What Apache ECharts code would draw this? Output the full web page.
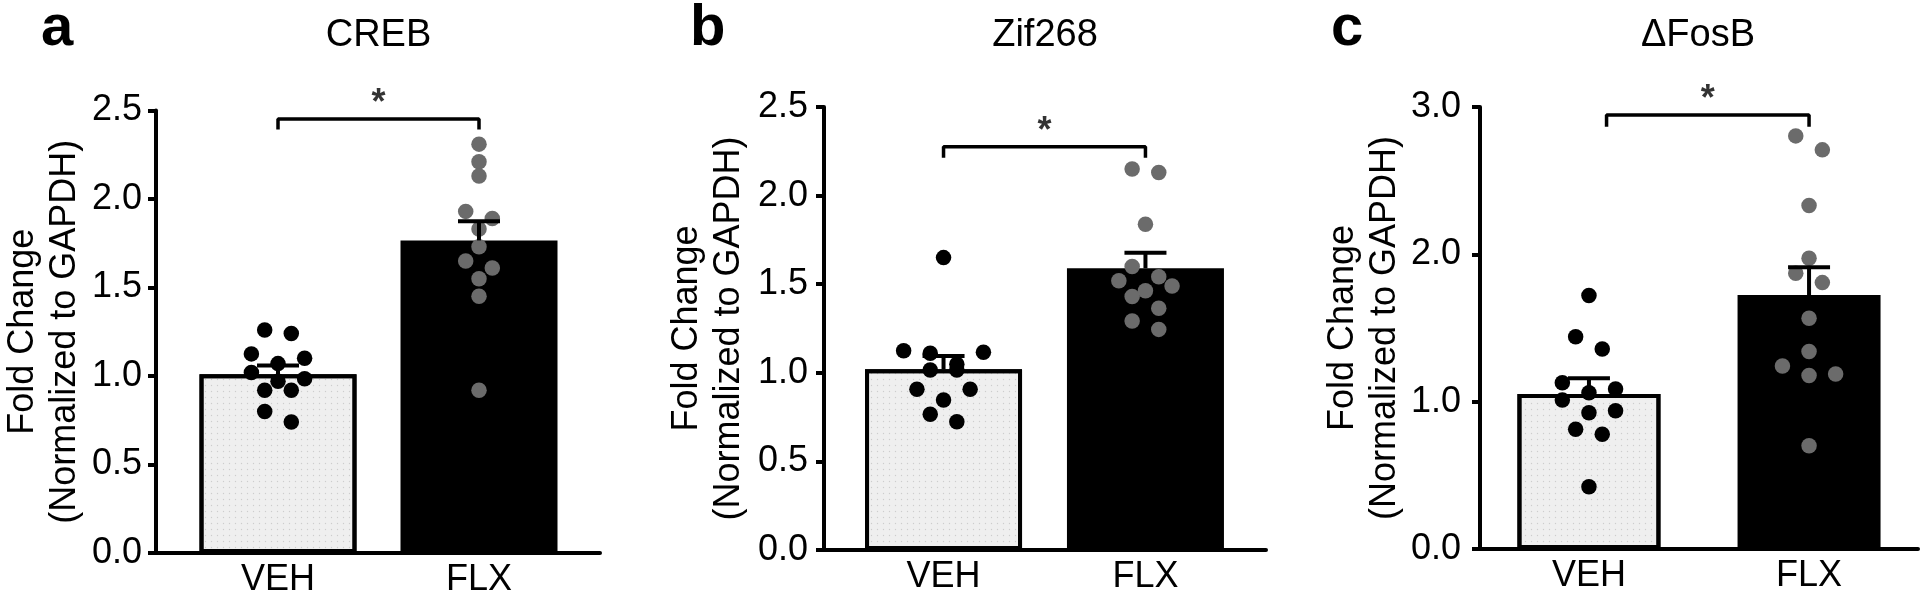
<!DOCTYPE html>
<html>
<head>
<meta charset="utf-8">
<script src="https://cdn.jsdelivr.net/npm/echarts@6/dist/echarts.min.js"></script>
<style>
html,body{margin:0;padding:0;background:#fff;}
#chart{width:1920px;height:592px;}
</style>
</head>
<body>
<div id="chart"></div>
<script>
// ---------- data ----------
const categories = ['VEH', 'FLX'];
const panelLetters = ['a', 'b', 'c'];
const panelTitles = ['CREB', 'Zif268', '\u0394FosB'];
const yAxisName = 'Fold Change\n(Normalized to GAPDH)';

const crebVeh = [1.26, 1.24, 1.125, 1.10, 1.07, 1.02, 0.985, 0.97, 0.92, 0.92, 0.80, 0.74];
const crebFlx = [2.31, 2.21, 2.13, 1.93, 1.89, 1.83, 1.73, 1.65, 1.61, 1.55, 1.45, 0.92];
const crebMean = [1.01, 1.766];
const crebSem = [0.05, 0.108];

const zifVeh = [1.65, 1.125, 1.116, 1.11, 1.048, 1.016, 1.016, 0.907, 0.907, 0.847, 0.766, 0.724];
const zifFlx = [2.15, 2.13, 1.838, 1.60, 1.542, 1.52, 1.49, 1.463, 1.43, 1.364, 1.292, 1.245];
const zifMean = [1.02, 1.59];
const zifSem = [0.075, 0.088];

const fosVeh = [1.72, 1.441, 1.358, 1.129, 1.086, 1.061, 1.012, 0.939, 0.925, 0.813, 0.779, 0.423];
const fosFlx = [2.804, 2.709, 2.331, 1.974, 1.872, 1.808, 1.566, 1.34, 1.242, 1.188, 1.177, 0.701];
const fosMean = [1.052, 1.724];
const fosSem = [0.107, 0.188];

const yMaxes = [2.5, 2.5, 3.0];
const yIntervals = [0.5, 0.5, 1.0];
const sigMarks = ['*', '*', '*'];
const bracketHeights = [2.452, 2.276, 2.946];

// ---------- layout (px) ----------
const FONT = '"Liberation Sans", Arial, Helvetica, sans-serif';
const panels = [
  {grid:{left:156, top:110.5, width:444, height:442.5}, xMin:-0.607, xMax:1.602, barW:157, nameGap:70, labelMargin:14, bracketFrom:0, bracketDrop:0.06,
   veh:crebVeh, flx:crebFlx, mean:crebMean, sem:crebSem, letterX:41, titleX:378.5},
  {grid:{left:824, top:107, width:442, height:443}, xMin:-0.592, xMax:1.597, barW:157, nameGap:74, labelMargin:16, bracketFrom:0, bracketDrop:0.062,
   veh:zifVeh, flx:zifFlx, mean:zifMean, sem:zifSem, letterX:690, titleX:1045},
  {grid:{left:1480, top:107, width:438, height:442}, xMin:-0.495, xMax:1.495, barW:143, nameGap:74, labelMargin:19, bracketFrom:0.08, bracketDrop:0.08,
   veh:fosVeh, flx:fosFlx, mean:fosMean, sem:fosSem, letterX:1331, titleX:1698}
];

const DOT = 15.5;     // dot diameter px
const STEP = 26.6;    // column step px within a swarm row

// simple row-based beeswarm: returns x offsets (in axis units) for the values
function swarm(values, pxPerX, pxPerY) {
  const idx = values.map((v, i) => i).sort((a, b) => values[b] - values[a]);
  const offs = new Array(values.length).fill(0);
  let i = 0;
  while (i < idx.length) {
    const row = [idx[i]];
    let j = i + 1;
    while (j < idx.length && (values[idx[i]] - values[idx[j]]) * pxPerY < 14) { row.push(idx[j]); j++; }
    const n = row.length;
    const slots = [];
    for (let k = 0; k < n; k++) slots.push((k - (n - 1) / 2) * STEP);
    const order = [];
    let lo = 0, hi = n - 1;
    while (lo <= hi) { order.push(slots[lo]); if (hi !== lo) order.push(slots[hi]); lo++; hi--; }
    row.forEach((id, k) => { offs[id] = order[k] / pxPerX; });
    i = j;
  }
  return offs;
}

const grids = [], xAxes = [], yAxes = [], series = [], graphics = [];

panels.forEach((p, pi) => {
  grids.push(Object.assign({outerBoundsMode:'none', containLabel:false}, p.grid));
  const pxPerX = p.grid.width / (p.xMax - p.xMin);
  const pxPerY = p.grid.height / yMaxes[pi];

  xAxes.push({
    gridIndex: pi, type: 'value', min: p.xMin, max: p.xMax,
    axisLine: {show: true, onZero: false, lineStyle: {color: '#000', width: 4}},
    axisTick: {show: false},
    splitLine: {show: false},
    axisLabel: {
      customValues: [0, 1],
      formatter: v => categories[Math.round(v)],
      fontSize: 36, color: '#000', fontFamily: FONT, margin: 9
    }
  });
  yAxes.push({
    gridIndex: pi, type: 'value', min: 0, max: yMaxes[pi], interval: yIntervals[pi],
    axisLine: {show: true, onZero: false, lineStyle: {color: '#000', width: 4}},
    axisTick: {show: true, length: 8, lineStyle: {color: '#000', width: 4}},
    splitLine: {show: false},
    axisLabel: {fontSize: 36, color: '#000', fontFamily: FONT, margin: p.labelMargin, formatter: v => v.toFixed(1)},
    name: yAxisName, nameLocation: 'middle', nameGap: p.nameGap,
    nameTextStyle: {fontSize: 36, color: '#000', fontFamily: FONT, lineHeight: 42}
  });

  // bars
  series.push({
    type: 'bar', xAxisIndex: pi, yAxisIndex: pi, barWidth: p.barW, z: 2,
    data: [
      {value: [0, p.mean[0]], itemStyle: {color: '#efefef', borderColor: '#000', borderWidth: 4,
        decal: {symbol: 'circle', symbolSize: 0.45, color: 'rgba(0,0,0,0.14)', dashArrayX: 3, dashArrayY: 3}}},
      {value: [1, p.mean[1]], itemStyle: {color: '#000', borderWidth: 0}}
    ]
  });

  // dots
  const vo = swarm(p.veh, pxPerX, pxPerY);
  const fo = swarm(p.flx, pxPerX, pxPerY);
  series.push({
    type: 'scatter', xAxisIndex: pi, yAxisIndex: pi, symbolSize: DOT, z: 3, clip: false,
    itemStyle: {color: '#000', opacity: 1},
    data: p.veh.map((v, i) => [0 + vo[i], v])
  });
  series.push({
    type: 'scatter', xAxisIndex: pi, yAxisIndex: pi, symbolSize: DOT, z: 3, clip: false,
    itemStyle: {color: '#6b6b6b', opacity: 1},
    data: p.flx.map((v, i) => [1 + fo[i], v])
  });

  // error bars (mean + SEM, upward only)
  series.push({
    type: 'custom', xAxisIndex: pi, yAxisIndex: pi, z: 4, clip: false,
    data: [[0, p.mean[0], p.sem[0]], [1, p.mean[1], p.sem[1]]],
    encode: {x: 0, y: 1},
    renderItem: (params, api) => {
      const x = api.value(0), m = api.value(1), s = api.value(2);
      const a = api.coord([x, m]), b = api.coord([x, m + s]);
      return {type: 'group', children: [
        {type: 'line', shape: {x1: a[0], y1: a[1], x2: b[0], y2: b[1]}, style: {stroke: '#000', lineWidth: 4}},
        {type: 'line', shape: {x1: b[0] - 21, y1: b[1], x2: b[0] + 21, y2: b[1]}, style: {stroke: '#000', lineWidth: 4}}
      ]};
    }
  });

  // significance bracket + star
  const h = bracketHeights[pi], f = p.bracketFrom, d = p.bracketDrop;
  series.push({
    type: 'line', xAxisIndex: pi, yAxisIndex: pi, z: 5, clip: false, symbol: 'none',
    lineStyle: {color: '#000', width: 3.5},
    data: [[f, h - d], [f, h], [1, h], [1, h - d]]
  });
  series.push({
    type: 'scatter', xAxisIndex: pi, yAxisIndex: pi, z: 5, clip: false, symbolSize: 1,
    itemStyle: {color: 'rgba(0,0,0,0)'},
    label: {show: true, position: 'top', distance: -4, formatter: sigMarks[pi],
      fontSize: 36, fontWeight: 'bold', color: '#000', fontFamily: FONT},
    data: [[(f + 1) / 2, h]]
  });

  graphics.push({type: 'text', x: p.letterX, y: 29, style: {text: panelLetters[pi], fontSize: 58, fontWeight: 'bold',
    fontFamily: FONT, fill: '#000', align: 'left', verticalAlign: 'middle'}});
  graphics.push({type: 'text', x: p.titleX, y: 36, style: {text: panelTitles[pi], fontSize: 38,
    fontFamily: FONT, fill: '#000', align: 'center', verticalAlign: 'middle'}});
});

const chart = echarts.init(document.getElementById('chart'), null, {renderer: 'canvas'});
chart.setOption({
  animation: false,
  backgroundColor: '#fff',
  grid: grids, xAxis: xAxes, yAxis: yAxes, series: series, graphic: graphics
});
</script>
</body>
</html>
